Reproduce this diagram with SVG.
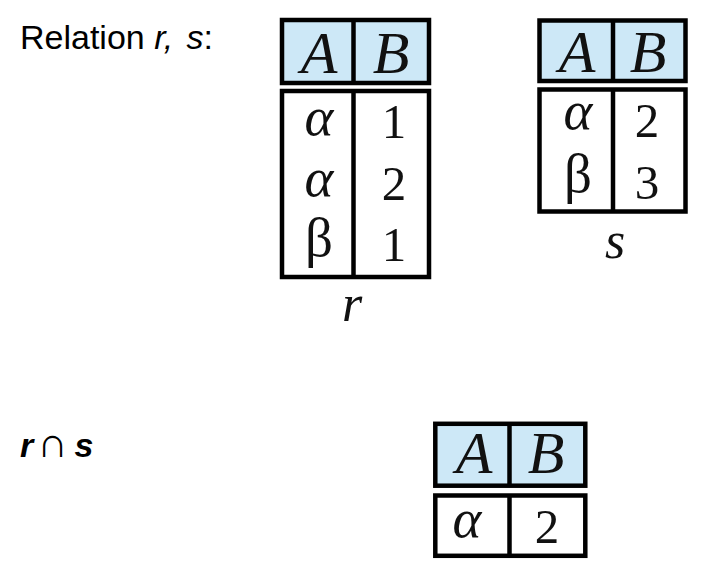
<svg xmlns="http://www.w3.org/2000/svg" width="727" height="585" viewBox="0 0 727 585">
<style>
.hd{fill:#cde8f7;stroke:#000;stroke-width:4.5}
.bd{fill:#fff;stroke:#000;stroke-width:4.5}
.dv{stroke:#000;stroke-width:4.5}
.h{font-family:"Liberation Serif",serif;font-style:italic;font-size:60px;text-anchor:middle;fill:#111}
.v{font-family:"Liberation Serif",serif;font-size:49px;text-anchor:middle;fill:#111}
.g{font-family:"Liberation Serif",serif;font-size:55px;text-anchor:middle;fill:#111}
.ga{font-style:italic}
.lb{font-family:"Liberation Serif",serif;font-style:italic;font-size:52px;text-anchor:middle;fill:#111}
.t{font-family:"Liberation Sans",Arial,sans-serif;font-size:34px;fill:#000}
</style>
<rect width="727" height="585" fill="#fff"/>
<text class="t" x="20" y="49">Relation <tspan font-style="italic">r,</tspan><tspan font-style="italic" dx="4"> s</tspan>:</text>
<text class="t" x="20" y="457"><tspan font-style="italic" font-weight="bold">r</tspan><tspan font-family="DejaVu Sans" font-weight="200" font-size="42" dx="4">∩</tspan><tspan font-style="italic" font-weight="bold" dx="7">s</tspan></text>

<g id="table-r">
<rect class="hd" x="282" y="20" width="147" height="63"/>
<line class="dv" x1="353.5" y1="20" x2="353.5" y2="83"/>
<text class="h" x="319" y="73">A</text>
<text class="h" x="391" y="73">B</text>
<rect class="bd" x="282" y="91" width="147" height="186"/>
<line class="dv" x1="353.5" y1="91" x2="353.5" y2="277"/>
<text class="g ga" x="319" y="135">α</text>
<text class="v" x="394" y="138">1</text>
<text class="g ga" x="319" y="196">α</text>
<text class="v" x="394" y="200">2</text>
<text class="g" x="319" y="256">β</text>
<text class="v" x="394" y="261">1</text>
<text class="lb" x="352" y="321">r</text>
</g>

<g id="table-s">
<rect class="hd" x="539.5" y="20.5" width="146" height="60.5"/>
<line class="dv" x1="613" y1="20.5" x2="613" y2="81"/>
<text class="h" x="577" y="72">A</text>
<text class="h" x="648" y="72">B</text>
<rect class="bd" x="539.5" y="89.5" width="146" height="122"/>
<line class="dv" x1="613" y1="89.5" x2="613" y2="211.5"/>
<text class="g ga" x="578" y="129">α</text>
<text class="v" x="647" y="137">2</text>
<text class="g" x="578" y="192">β</text>
<text class="v" x="647" y="199">3</text>
<text class="lb" x="615" y="258">s</text>
</g>

<g id="table-intersection">
<rect class="hd" x="435.3" y="423.8" width="150" height="61.9"/>
<line class="dv" x1="509.5" y1="423.8" x2="509.5" y2="485.7"/>
<text class="h" x="474" y="473">A</text>
<text class="h" x="546" y="473">B</text>
<rect class="bd" x="435.3" y="495.5" width="150" height="60.3"/>
<line class="dv" x1="509.5" y1="495.5" x2="509.5" y2="555.8"/>
<text class="g ga" x="467" y="537">α</text>
<text class="v" x="547" y="543">2</text>
</g>
</svg>
